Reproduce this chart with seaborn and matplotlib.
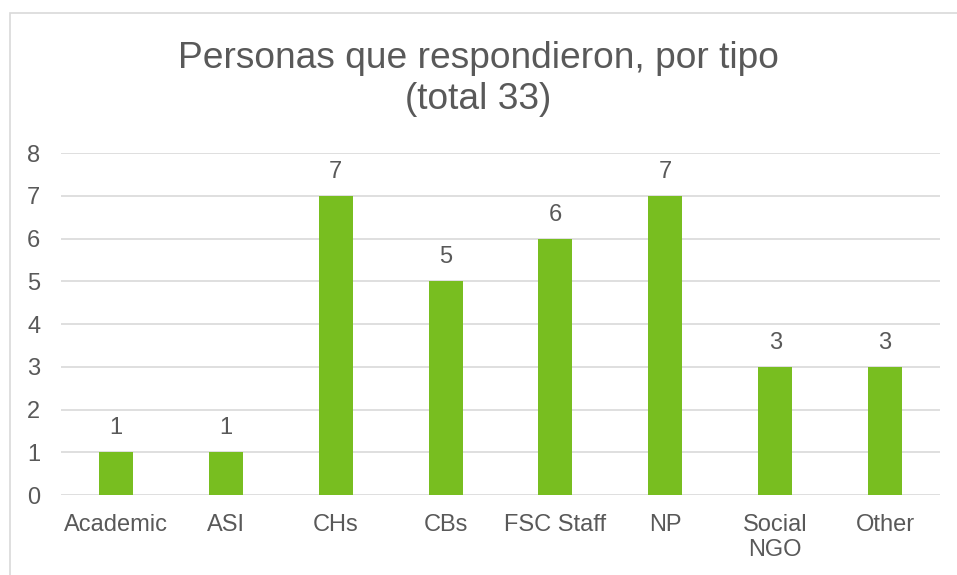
import matplotlib
matplotlib.use("Agg")
import matplotlib.pyplot as plt
import matplotlib.patches as mpatches
import seaborn as sb
import pandas as pd

# datos del grafico
tipos = ["Academic", "ASI", "CHs", "CBs", "FSC Staff", "NP", "Social\nNGO", "Other"]
personas = [1, 1, 7, 5, 6, 7, 3, 3]
titulo = "Personas que respondieron, por tipo\n(total 33)"

df = pd.DataFrame({"tipo": tipos, "personas": personas})

sb.set_style("white")
plt.rcParams["font.family"] = ["Liberation Sans", "DejaVu Sans"]
gris = "#595959"

fig = plt.figure(figsize=(9.57, 5.75), dpi=100)
ax = fig.add_axes([61 / 957, 1 - 495 / 575, 879 / 957, 342 / 575])

sb.barplot(data=df, x="tipo", y="personas", color="#78BE20", width=0.31,
           saturation=1, linewidth=0, ax=ax)

for i, v in enumerate(personas):
    ax.text(i, v + 0.3, str(v), ha="center", va="bottom", fontsize=17, color=gris)

ax.set_ylim(0, 8)
ax.set_yticks(range(0, 9))
ax.yaxis.grid(True, color="#D9D9D9", linewidth=1.2)
ax.set_axisbelow(True)
for s in ax.spines.values():
    s.set_visible(False)
ax.tick_params(axis="both", length=0, labelsize=17, labelcolor=gris)
for lab in ax.get_xticklabels():
    lab.set_linespacing(1.15)
ax.tick_params(axis="x", pad=14)
ax.tick_params(axis="y", pad=15)
ax.set_xlabel("")
ax.set_ylabel("")

fig.text(0.5, 1 - 79 / 575, titulo, ha="center", va="center", fontsize=26.7,
         color=gris, linespacing=1.2)

# marco del grafico
fig.patches.append(mpatches.Rectangle((10 / 957, -0.05), 1.1, 1 - 13 / 575 + 0.05,
                                      transform=fig.transFigure, fill=False,
                                      edgecolor="#D9D9D9", linewidth=1.2))

fig.savefig("out.png", dpi=100)
